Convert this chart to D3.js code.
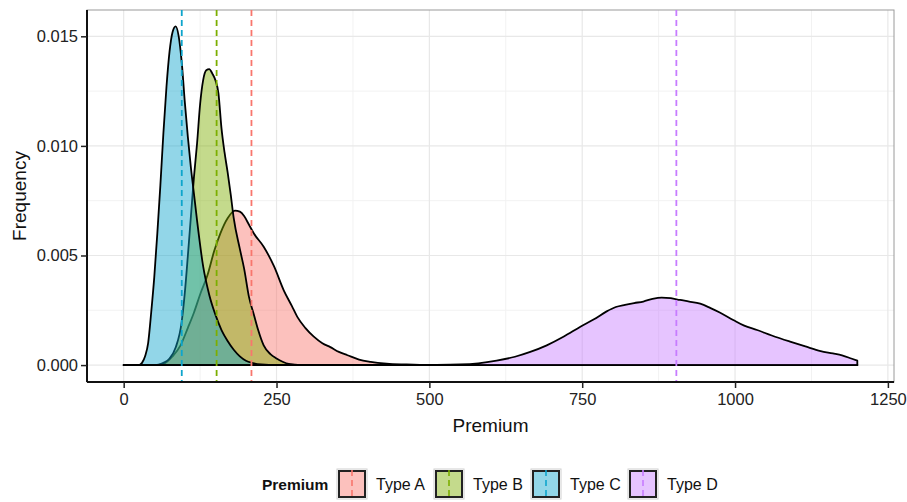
<!DOCTYPE html>
<html>
<head>
<meta charset="utf-8">
<script src="https://cdn.jsdelivr.net/npm/d3@7"></script>
<style>
  body { margin: 0; background: #fff; }
  svg { font-family: "Liberation Sans", Arial, Helvetica, sans-serif; }
</style>
</head>
<body>
<svg id="chart"></svg>
<script>
// --- data: [premium, density] ---
const typeNames = ['Type A', 'Type B', 'Type C', 'Type D'];
const typeColors = ['#F8766D', '#7CAE00', '#0EA5CC', '#C77CFF'];
const typeMeans = [209, 152, 95, 904];

const densA = [[0,0],[50,0],[65,0.00005],[80,0.0004],[93,0.0009],[105,0.0017],[115,0.0024],[126,0.0033],[137,0.0041],
  [148,0.0052],[158,0.0060],[170,0.0067],[182,0.00705],[190,0.0070],[197,0.0068],[205,0.0064],[213,0.0060],[229,0.0054],
  [246,0.0045],[262,0.0034],[275,0.0027],[284,0.0022],[297,0.0017],[311,0.0013],[325,0.0010],[338,0.00082],[352,0.0006],
  [366,0.00045],[385,0.00025],[404,0.00015],[430,0.00007],[460,0.00003],[500,0],[1200,0]];
const densB = [[0,0],[55,0],[65,0.0001],[75,0.0003],[85,0.0008],[95,0.0020],[100,0.0033],[105,0.0050],[110,0.0068],
  [115,0.0086],[120,0.0101],[125,0.0119],[130,0.0130],[135,0.01345],[140,0.0135],[145,0.0133],[150,0.0130],[155,0.0124],
  [160,0.0108],[165,0.0097],[170,0.0088],[175,0.0078],[180,0.0067],[190,0.0053],[197,0.0044],[205,0.0031],[213,0.0023],
  [220,0.0016],[229,0.0009],[240,0.0005],[250,0.0003],[260,0.00015],[270,0.00005],[290,0],[1200,0]];
const densC = [[0,0],[25,0],[30,0.0001],[35,0.0004],[40,0.0010],[45,0.0024],[50,0.0040],[55,0.0060],[60,0.0082],[65,0.0106],
  [70,0.0127],[75,0.0143],[80,0.0152],[85,0.01545],[90,0.0150],[95,0.0138],[100,0.0120],[105,0.0104],[110,0.0090],
  [115,0.0078],[120,0.0066],[130,0.0045],[140,0.0032],[150,0.0023],[160,0.0016],[170,0.0011],[180,0.0007],[190,0.0004],
  [200,0.0002],[210,0.0001],[225,0.00003],[250,0],[1200,0]];
const densD = [[0,0],[450,0],[500,0.00001],[550,0.00003],[580,0.00008],[610,0.0002],[640,0.00038],[665,0.0006],[692,0.0009],
  [720,0.0013],[747,0.00175],[770,0.0021],[790,0.00245],[805,0.00265],[820,0.00275],[835,0.00283],[850,0.0029],
  [865,0.00302],[880,0.00308],[895,0.00305],[910,0.00297],[925,0.0029],[943,0.0028],[960,0.0026],[975,0.0024],
  [997,0.00206],[1015,0.0018],[1036,0.0016],[1060,0.00135],[1090,0.00107],[1115,0.00085],[1140,0.00064],[1160,0.00053],
  [1175,0.00044],[1190,0.0003],[1200,0.0002]];
const densities = [densA, densB, densC, densD];

const xTicks = [0, 250, 500, 750, 1000, 1250];
const xMinor = [125, 375, 625, 875, 1125];
const yTicks = [0, 0.005, 0.010, 0.015];
const yMinor = [0.0025, 0.0075, 0.0125];

const width = 907, height = 502;
const margin = { top: 10, right: 13, bottom: 120, left: 87 };

const svg = d3.select('#chart').attr('width', width).attr('height', height);

const x = d3.scaleLinear().domain([-60, 1260]).range([margin.left, width - margin.right]);
const y = d3.scaleLinear().domain([-0.000772, 0.0162]).range([height - margin.bottom, margin.top]);

// grid
const grid = svg.append('g');
grid.selectAll('.xm').data(xMinor).join('line')
  .attr('x1', d => x(d)).attr('x2', d => x(d)).attr('y1', y.range()[0]).attr('y2', y.range()[1])
  .attr('stroke', '#f2f2f2').attr('stroke-width', 1);
grid.selectAll('.ym').data(yMinor).join('line')
  .attr('y1', d => y(d)).attr('y2', d => y(d)).attr('x1', x.range()[0]).attr('x2', x.range()[1])
  .attr('stroke', '#f2f2f2').attr('stroke-width', 1);
grid.selectAll('.xg').data(xTicks).join('line')
  .attr('x1', d => x(d)).attr('x2', d => x(d)).attr('y1', y.range()[0]).attr('y2', y.range()[1])
  .attr('stroke', '#e8e8e8').attr('stroke-width', 1.2);
grid.selectAll('.yg').data(yTicks).join('line')
  .attr('y1', d => y(d)).attr('y2', d => y(d)).attr('x1', x.range()[0]).attr('x2', x.range()[1])
  .attr('stroke', '#e8e8e8').attr('stroke-width', 1.2);

// panel border (top / right)
svg.append('rect')
  .attr('x', x.range()[0]).attr('y', y.range()[1])
  .attr('width', x.range()[1] - x.range()[0]).attr('height', y.range()[0] - y.range()[1])
  .attr('fill', 'none').attr('stroke', '#9a9a9a').attr('stroke-width', 1);

// density areas
const area = d3.area()
  .x(d => x(d[0]))
  .y0(y(0))
  .y1(d => y(d[1]))
  .curve(d3.curveMonotoneX);

densities.forEach((dens, i) => {
  svg.append('path')
    .datum(dens)
    .attr('fill', typeColors[i])
    .attr('fill-opacity', 0.45)
    .attr('stroke', '#000')
    .attr('stroke-width', 1.8)
    .attr('stroke-linejoin', 'round')
    .attr('d', area);
});

// mean lines
svg.selectAll('.mean').data(typeMeans).join('line')
  .attr('x1', d => x(d)).attr('x2', d => x(d))
  .attr('y1', y.range()[1]).attr('y2', y.range()[0])
  .attr('stroke', (d, i) => typeColors[i])
  .attr('stroke-width', 1.8)
  .attr('stroke-dasharray', '6,4');

// axes
const xAxis = svg.append('g')
  .attr('transform', `translate(0,${y.range()[0]})`)
  .call(d3.axisBottom(x).tickValues(xTicks).tickSize(6).tickPadding(5).tickFormat(d3.format('d')));
const yAxis = svg.append('g')
  .attr('transform', `translate(${x.range()[0]},0)`)
  .call(d3.axisLeft(y).tickValues(yTicks).tickSize(6).tickPadding(3).tickFormat(d3.format('.3f')));

[xAxis, yAxis].forEach(a => {
  a.select('.domain').attr('stroke', '#111').attr('stroke-width', 2);
  a.selectAll('.tick line').attr('stroke', '#222').attr('stroke-width', 1.5);
  a.selectAll('.tick text').attr('fill', '#222').style('font-size', '16.5px');
});
xAxis.select('.domain').attr('d', `M${x.range()[0]},0H${x.range()[1]}`);
yAxis.select('.domain').attr('d', `M0,${y.range()[0]}V${y.range()[1]}`);

// axis titles
svg.append('text')
  .attr('x', (x.range()[0] + x.range()[1]) / 2).attr('y', 432)
  .attr('text-anchor', 'middle').style('font-size', '19px').attr('fill', '#111')
  .text('Premium');
svg.append('text')
  .attr('transform', `translate(26,${(y.range()[0] + y.range()[1]) / 2}) rotate(-90)`)
  .attr('text-anchor', 'middle').style('font-size', '19px').attr('fill', '#111')
  .text('Frequency');

// legend
const legend = svg.append('g');
legend.append('text')
  .attr('x', 262).attr('y', 490)
  .style('font-size', '15.5px').style('font-weight', 'bold').attr('fill', '#111')
  .text('Premium');
const keyX = [338, 435, 532, 629];
const items = legend.selectAll('.item').data(typeNames).join('g')
  .attr('transform', (d, i) => `translate(${keyX[i]},470)`);
items.append('rect')
  .attr('x', -1).attr('y', -1).attr('width', 30).attr('height', 30)
  .attr('fill', 'none').attr('stroke', '#d0d0d0').attr('stroke-width', 1);
items.append('rect')
  .attr('x', 1).attr('y', 1).attr('width', 26).attr('height', 26)
  .attr('fill', (d, i) => typeColors[i]).attr('fill-opacity', 0.45)
  .attr('stroke', '#222').attr('stroke-width', 2);
items.append('line')
  .attr('x1', 14).attr('x2', 14).attr('y1', 0).attr('y2', 28)
  .attr('stroke', (d, i) => typeColors[i]).attr('stroke-width', 1.6)
  .attr('stroke-dasharray', '6,4');
items.append('text')
  .attr('x', 38).attr('y', 20)
  .style('font-size', '16px').attr('fill', '#111')
  .text(d => d);
</script>
</body>
</html>
